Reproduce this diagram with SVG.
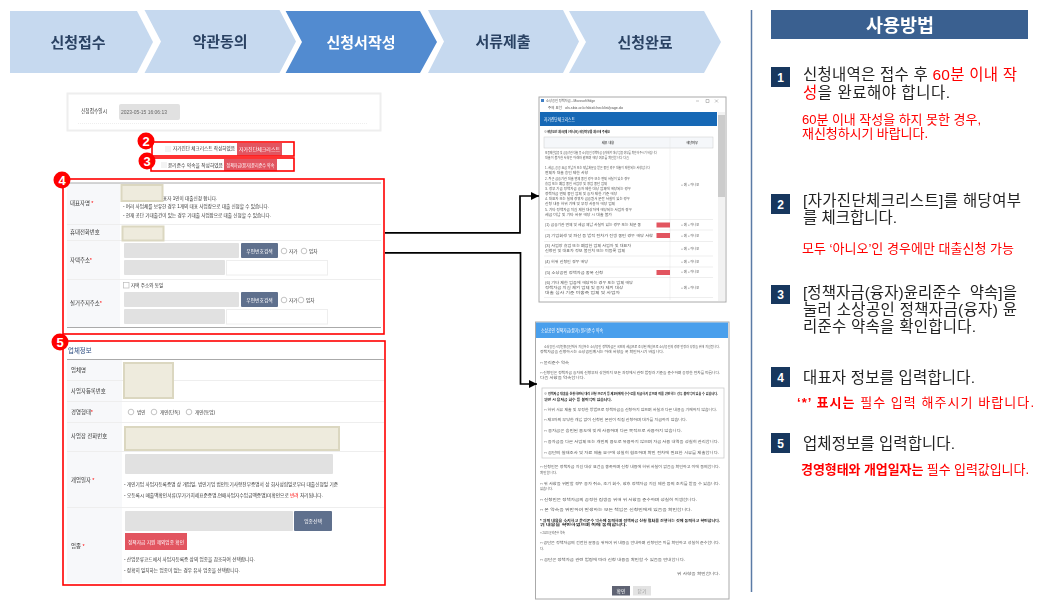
<svg xmlns="http://www.w3.org/2000/svg" width="1037" height="602" viewBox="0 0 1037 602">
<defs>
<filter id="soft" x="-2%" y="-2%" width="104%" height="104%"><feGaussianBlur stdDeviation="0.35"/></filter>
<filter id="soft2" x="-2%" y="-5%" width="104%" height="110%"><feGaussianBlur stdDeviation="0.2"/></filter>
<marker id="arrow" viewBox="0 0 10 10" refX="10" refY="5" markerWidth="5" markerHeight="5" orient="auto"><path d="M0 0L10 5L0 10Z" fill="#000"/></marker>
</defs>
<style>
text{font-family:"Liberation Sans","Noto Sans CJK KR",sans-serif}
.chev{fill:#c6d9ef}.chevA{fill:#528bd0}
.ct{font-size:15px;font-weight:700;fill:#2b4364;text-anchor:middle}
.ctA{font-size:15px;font-weight:700;fill:#fff;text-anchor:middle}
.l{font-size:5.4px;fill:#333}
.m{font-size:4.6px;fill:#333}
.w{font-size:4.8px;fill:#fff;text-anchor:middle}
.t{font-size:3.2px;fill:#555}
.tb{font-size:3.2px;fill:#111;font-weight:700}
.red{fill:none;stroke:#f00;stroke-width:1.6}
.circ{fill:#f00}
.ctxt{font-size:13px;font-weight:700;fill:#fff;text-anchor:middle}
.beige{fill:#eeebdd;stroke:#dbd7c0;stroke-width:2}
.gray{fill:#e1e1e1}
.wbox{fill:#fff;stroke:#eee;stroke-width:1}
.btn{fill:#5f6f8d}
.rbtn{fill:#e25461}
.lab{fill:#f7f8fa}
.div{stroke:#eee;stroke-width:1}
.hd{stroke:#aaa;stroke-width:1}
.rl{stroke:#ddd;stroke-width:.5}
.rad{fill:#fff;stroke:#aaa;stroke-width:.7}
.chk{fill:#fff;stroke:#bbb;stroke-width:.7}
.badge{fill:#17375e}
.bt{font-size:12px;font-weight:700;fill:#fff;text-anchor:middle}
.b{font-size:15.5px;fill:#222}
.r{fill:#f00}
.rs{font-size:13px;fill:#f00}
.conn{fill:none;stroke:#000;stroke-width:1.7;marker-end:url(#arrow)}
</style>

<g id="step1"><path class="chev" d="M10 11H137L153 42L137 73H10Z"/><text class="ct" x="78" y="47.500" filter="url(#soft2)">신청접수</text></g>
<g id="step2"><path class="chev" d="M144.500 10H279.500L296 41.500L279.500 73H144.500L161 41.500Z"/><text class="ct" x="220" y="47" filter="url(#soft2)">약관동의</text></g>
<g id="step3"><path class="chevA" d="M285.600 11H420L437 42L420 73H285.600L302 42Z"/><text class="ctA" x="361" y="47.500" filter="url(#soft2)">신청서작성</text></g>
<g id="step4"><path class="chev" d="M428 10H563L579 41.500L563 73H428L444 41.500Z"/><text class="ct" x="503" y="47" filter="url(#soft2)">서류제출</text></g>
<g id="step5"><path class="chev" d="M569 11H704L721 42L704 73H569L586 42Z"/><text class="ct" x="645" y="47.500" filter="url(#soft2)">신청완료</text></g>

<g id="receipt-form" filter="url(#soft)">
<rect x="67.500" y="93.500" width="313" height="37" fill="#fff" stroke="#eee" stroke-width="2"/>
<text class="l" x="81" y="113" textLength="26" lengthAdjust="spacingAndGlyphs">신청접수일시</text>
<rect x="119" y="104" width="61" height="16" rx="2" class="gray"/>
<text class="l" x="121" y="113.500" style="fill:#666" textLength="46" lengthAdjust="spacingAndGlyphs">2023-05-15 16:06:13</text>
<line x1="78" y1="123.500" x2="368" y2="123.500" stroke="#eee" stroke-dasharray="1 1"/>
</g>

<g id="callout2">
<g filter="url(#soft)">
<rect x="165" y="146" width="6" height="6" fill="#f3f3f3"/>
<text class="m" x="173" y="150" textLength="62" lengthAdjust="spacingAndGlyphs">자가진단 체크리스트 작성하였음</text>
<rect class="rbtn" x="237" y="143" width="45" height="12.500"/>
<text class="w" x="259.500" y="151" textLength="41" lengthAdjust="spacingAndGlyphs">자가진단체크리스트</text>
</g>
<rect class="red" x="152" y="142" width="142" height="14"/>
<circle class="circ" cx="146" cy="141" r="8.500"/><text class="ctxt" x="146" y="145.500">2</text>
</g>

<g id="callout3">
<g filter="url(#soft)">
<rect x="161" y="162" width="6" height="6" fill="#f3f3f3"/>
<text class="m" x="168" y="166.500" textLength="55" lengthAdjust="spacingAndGlyphs">윤리준수 약속을 작성하였음</text>
<rect class="rbtn" x="224" y="159" width="53" height="12"/>
<text class="w" x="250.500" y="167" textLength="48" lengthAdjust="spacingAndGlyphs">정책자금(융자)윤리준수 약속</text>
</g>
<rect class="red" x="151" y="158" width="143" height="13"/>
<circle class="circ" cx="147" cy="161" r="8.500"/><text class="ctxt" x="147" y="165.500">3</text>
</g>

<g id="callout4">
<g filter="url(#soft)">
<rect class="lab" x="67" y="183" width="53" height="144"/>
<line class="hd" x1="67" y1="183" x2="381" y2="183"/>
<line class="div" x1="67" y1="224.500" x2="381" y2="224.500"/>
<line class="div" x1="67" y1="240.500" x2="381" y2="240.500"/>
<line class="div" x1="67" y1="279.500" x2="381" y2="279.500"/>
<line class="hd" x1="67" y1="327.500" x2="381" y2="327.500"/>
<text class="l" x="70" y="205">대표자명 <tspan class="r">*</tspan></text>
<text class="l" x="70" y="234">휴대전화번호</text>
<text class="l" x="70" y="262">자택주소<tspan class="r">*</tspan></text>
<text class="l" x="70" y="305">실거주지주소<tspan class="r">*</tspan></text>
<rect class="beige" x="121.500" y="185" width="41" height="16"/>
<text class="m" x="163" y="200">표자 1인이 대출신청 합니다.</text>
<text class="m" x="123" y="208" textLength="146" lengthAdjust="spacingAndGlyphs">- 여러 사업체를 보유한 경우 1개의 대표 사업장으로 대출 신청할 수 있습니다.</text>
<text class="m" x="123" y="217" textLength="148" lengthAdjust="spacingAndGlyphs">- 현재 공단 기대출건이 있는 경우 기대출 사업장으로 대출 신청할 수 있습니다.</text>
<rect class="beige" x="122.500" y="226.500" width="41" height="14"/>
<rect class="gray" x="124" y="243" width="115" height="15" rx="1"/>
<rect class="btn" x="241" y="243" width="37" height="15" rx="1"/>
<text class="w" x="259.500" y="252.500">우편번호검색</text>
<circle class="rad" cx="284" cy="251" r="2.800"/><text class="m" x="289" y="252.500">자가</text>
<circle class="rad" cx="304" cy="251" r="2.800"/><text class="m" x="309" y="252.500">임차</text>
<rect class="gray" x="124" y="260" width="101" height="15" rx="1"/>
<rect class="wbox" x="226.500" y="260.500" width="101" height="14.500"/>
<rect class="chk" x="123.500" y="282.500" width="5.500" height="5.500"/>
<text class="m" x="131" y="287">자택 주소와 동일</text>
<rect class="gray" x="124" y="292" width="115" height="15" rx="1"/>
<rect class="btn" x="241" y="292" width="37" height="15" rx="1"/>
<text class="w" x="259.500" y="301.500">우편번호검색</text>
<circle class="rad" cx="284" cy="300" r="2.800"/><text class="m" x="289" y="301.500">자가</text>
<circle class="rad" cx="301" cy="300" r="2.800"/><text class="m" x="306" y="301.500">임차</text>
<rect class="gray" x="124" y="309" width="101" height="15" rx="1"/>
<rect class="wbox" x="226.500" y="309.500" width="101" height="14.500"/>
</g>
<rect class="red" x="63" y="179" width="321" height="155"/>
<circle class="circ" cx="62" cy="180" r="8.500"/><text class="ctxt" x="62" y="184.500">4</text>
</g>

<g id="callout5">
<g filter="url(#soft)">
<rect class="lab" x="67" y="359" width="55" height="224"/>
<text x="68" y="352.500" font-size="6.400" fill="#2a4a7f">업체정보</text>
<line class="hd" x1="67" y1="359.500" x2="384" y2="359.500"/>
<line class="div" x1="67" y1="380.500" x2="384" y2="380.500"/>
<line class="div" x1="67" y1="401.500" x2="384" y2="401.500"/>
<line class="div" x1="67" y1="422.500" x2="384" y2="422.500"/>
<line class="div" x1="67" y1="451.500" x2="384" y2="451.500"/>
<line class="div" x1="67" y1="507.500" x2="384" y2="507.500"/>
<text class="l" x="71" y="372">업체명</text>
<text class="l" x="71" y="393">사업자등록번호</text>
<text class="l" x="71" y="414">경영형태<tspan class="r">*</tspan></text>
<text class="l" x="71" y="438">사업장 전화번호</text>
<text class="l" x="71" y="482">개업일자 <tspan class="r">*</tspan></text>
<text class="l" x="71" y="548">업종 <tspan class="r">*</tspan></text>
<rect class="beige" x="124" y="363" width="49" height="35"/>
<circle class="rad" cx="131" cy="412" r="2.800"/><text class="m" x="137" y="413.500">법인</text>
<circle class="rad" cx="154" cy="412" r="2.800"/><text class="m" x="160" y="413.500">개인(단독)</text>
<circle class="rad" cx="189" cy="412" r="2.800"/><text class="m" x="195" y="413.500">개인(동업)</text>
<rect class="beige" x="125" y="427" width="214" height="23"/>
<rect class="gray" x="125" y="454" width="208" height="20" rx="1"/>
<text class="m" x="124" y="486" textLength="214" lengthAdjust="spacingAndGlyphs">- 개인기업 사업자등록증명 상 개업일, 법인기업 법인등기사항전부증명서 상 회사성립일로부터 대출신청일 기준</text>
<text class="m" x="124" y="497" textLength="199" lengthAdjust="spacingAndGlyphs">- 오등록시 매출액확인서류(부가가치세표준증명,연매사업자수입금액증명)미확인으로 <tspan class="r">반려</tspan> 처리됩니다.</text>
<rect class="gray" x="125" y="511" width="168" height="20" rx="1"/>
<rect class="btn" x="294" y="511" width="38" height="20" rx="1"/>
<text class="w" x="313" y="523">업종선택</text>
<rect class="rbtn" x="125" y="533" width="62" height="17"/>
<text class="w" x="156" y="543.500" textLength="56" lengthAdjust="spacingAndGlyphs">정책자금 지원 제외업종 확인</text>
<text class="m" x="124" y="561" textLength="131" lengthAdjust="spacingAndGlyphs">- 산업분류코드에서 사업자등록증 상의 업종을 참조하여 선택합니다.</text>
<text class="m" x="124" y="572" textLength="116" lengthAdjust="spacingAndGlyphs">- 정확히 일치하는 업종이 없는 경우 유사 업종을 선택합니다.</text>
</g>
<rect class="red" x="63" y="341" width="322" height="244"/>
<circle class="circ" cx="60" cy="342" r="8.500"/><text class="ctxt" x="60" y="346.500">5</text>
</g>

<g id="checklist-window" filter="url(#soft)">
<rect x="539" y="97" width="187" height="205" fill="#fff" stroke="#aaa" stroke-width="1"/>
<rect x="541" y="99" width="3" height="3" fill="#3f7fc4"/>
<text class="t" x="546" y="102" textLength="49" lengthAdjust="spacingAndGlyphs">소상공인 정책자금 - Microsoft Edge</text>
<path d="M696 101h3M706 99.500h3v3h-3zM715 99.500l3 3m0-3l-3 3" fill="none" stroke="#888" stroke-width=".5"/>
<text class="t" x="548" y="108.500" textLength="14" lengthAdjust="spacingAndGlyphs">주의 요함</text>
<text class="t" x="565" y="108.500" textLength="58" lengthAdjust="spacingAndGlyphs">ols.sbiz.or.kr/sbiz/checklist/page.do</text>
<rect x="540" y="112" width="177" height="14" fill="#1467b5"/>
<text x="544" y="120.500" font-size="4.200" fill="#fff" textLength="31" lengthAdjust="spacingAndGlyphs">자가진단체크리스트</text>
<rect x="718" y="112" width="7" height="189" fill="#f2f2f2"/>
<rect x="718" y="115" width="7" height="82" fill="#ccc"/>
<text class="tb" x="544" y="133" textLength="66" lengthAdjust="spacingAndGlyphs">※해당요건 체크(예 / 아니오) 해당여부를 체크해 주세요</text>
<rect x="544" y="137" width="169" height="11" fill="#f5f7fa" stroke="#ccc" stroke-width=".5"/>
<line x1="670" y1="137" x2="670" y2="300" stroke="#e5e5e5" stroke-width=".5"/>
<text class="t" x="608" y="143.500" text-anchor="middle" font-weight="700">세부 내용</text>
<text class="t" x="692" y="143.500" text-anchor="middle" font-weight="700">해당여부</text>
<text class="t" x="545" y="154" textLength="112" lengthAdjust="spacingAndGlyphs">보증제한업종 및 금융기관 대출 등 소상공인 정책자금 융자제외 대상 업종 여부를 확인해 주시기 바랍니다</text>
<text class="t" x="545" y="159" textLength="84" lengthAdjust="spacingAndGlyphs">대출이 불가한 사항은 아래와 같으며 해당 여부를 확인합니다 다음</text>
<text class="t" x="545" y="168.500" textLength="105" lengthAdjust="spacingAndGlyphs">1. 세금, 공공 요금 미납자 또는 체납처분을 받은 중인 경우 대출이 제한되는 사항입니다</text>
<text class="t" x="545" y="174" textLength="43" lengthAdjust="spacingAndGlyphs">연체자 대출 승인 제한 사항</text>
<text class="t" x="545" y="179.500" textLength="85" lengthAdjust="spacingAndGlyphs">2. 최근 금융기관 대출 연체 중인 경우 또는 연체 사실이 있는 경우</text>
<text class="t" x="545" y="184.500" textLength="62" lengthAdjust="spacingAndGlyphs">휴업 또는 폐업 중인 사업장 및 영업 중단 업체</text>
<text class="t" x="545" y="190" textLength="86" lengthAdjust="spacingAndGlyphs">3. 정부 기금 정책자금 융자 제한 대상 업체에 해당되는 경우</text>
<text class="t" x="545" y="194.500" textLength="72" lengthAdjust="spacingAndGlyphs">정책자금 연체 중인 업체 및 융자 제한 기준 해당</text>
<text class="t" x="545" y="200" textLength="85" lengthAdjust="spacingAndGlyphs">4. 대표자 또는 실제 경영자 금융질서 문란 사실이 있는 경우</text>
<text class="t" x="545" y="204.500" textLength="70" lengthAdjust="spacingAndGlyphs">신청 내용 허위 기재 및 부정 사용자 해당 업체</text>
<text class="t" x="545" y="210.500" textLength="87" lengthAdjust="spacingAndGlyphs">5. 기타 정책자금 지원 제한 대상자에 해당되는 사업자 경우</text>
<text class="t" x="545" y="215.500" textLength="67" lengthAdjust="spacingAndGlyphs">세금 미납 및 기타 사유 해당 시 대출 불가</text>
<line class="rl" x1="544" y1="219.500" x2="713" y2="219.500"/>
<line class="rl" x1="544" y1="230" x2="713" y2="230"/>
<line class="rl" x1="544" y1="241.500" x2="713" y2="241.500"/>
<line class="rl" x1="544" y1="256" x2="713" y2="256"/>
<line class="rl" x1="544" y1="267" x2="713" y2="267"/>
<line class="rl" x1="544" y1="277.500" x2="713" y2="277.500"/>
<line class="rl" x1="544" y1="297.500" x2="713" y2="297.500"/>
<text class="t" x="545" y="225.500" textLength="96" lengthAdjust="spacingAndGlyphs">(1) 금융기관 연체 및 세금 체납 사실이 있는 경우 또는 처분 중</text>
<text class="t" x="545" y="237" textLength="108" lengthAdjust="spacingAndGlyphs">(2) 기업회생 및 파산 등 법적 절차가 진행 중인 경우 해당 사항</text>
<text class="t" x="545" y="247" textLength="86" lengthAdjust="spacingAndGlyphs">(3) 사업장 휴업 또는 폐업한 업체 사업자 및 대표자</text>
<text class="t" x="545" y="252" textLength="80" lengthAdjust="spacingAndGlyphs">신청인 및 대표자 정보 불일치 또는 미등록 업체</text>
<text class="t" x="545" y="262.500" textLength="43" lengthAdjust="spacingAndGlyphs">(4) 허위 신청인 경우 해당</text>
<text class="t" x="545" y="273.500" textLength="58" lengthAdjust="spacingAndGlyphs">(5) 소상공인 정책자금 중복 신청</text>
<text class="t" x="545" y="283.500" textLength="88" lengthAdjust="spacingAndGlyphs">(6) 기타 제한 업종에 해당하는 경우 또는 업체 해당</text>
<text class="t" x="545" y="288.500" textLength="78" lengthAdjust="spacingAndGlyphs">정책자금 지원 제외 업체 및 융자 제외 대상</text>
<text class="t" x="545" y="293.500" textLength="75" lengthAdjust="spacingAndGlyphs">대출 심사 기준 미충족 업체 및 사업자</text>
<rect class="rbtn" x="656.500" y="222.500" width="13.500" height="5"/>
<rect class="rbtn" x="656.500" y="233" width="13.500" height="5"/>
<rect class="rbtn" x="656.500" y="270" width="13.500" height="5"/>
<text class="t" x="681" y="185.500">○ 예 ○ 아니오</text><text class="t" x="681" y="226">○ 예 ○ 아니오</text><text class="t" x="681" y="237">○ 예 ○ 아니오</text><text class="t" x="681" y="250">○ 예 ○ 아니오</text><text class="t" x="681" y="262.500">○ 예 ○ 아니오</text><text class="t" x="681" y="273">○ 예 ○ 아니오</text><text class="t" x="681" y="288.500">○ 예 ○ 아니오</text>
</g>

<g id="ethics-window" filter="url(#soft)">
<rect x="535.500" y="322" width="193.500" height="277" fill="#fff" stroke="#aaa" stroke-width="1"/>
<rect x="536" y="322.500" width="192" height="15.500" fill="#4a9fec"/>
<text x="541" y="332" font-size="4.400" fill="#fff" textLength="62" lengthAdjust="spacingAndGlyphs">소상공인 정책자금(융자) 윤리준수 약속</text>
<text class="t" x="544" y="348.300" textLength="176" lengthAdjust="spacingAndGlyphs">소상공인시장진흥공단에서 지원하는 소상공인 정책자금은 국민의 세금으로 조성된 재원으로 소상공인의 경영 안정과 성장을 위해 지원됩니다.</text>
<text class="t" x="540" y="353.300" textLength="124" lengthAdjust="spacingAndGlyphs">정책자금을 신청하시는 소상공인께서는 아래 사항을 꼭 확인하시기 바랍니다.</text>
<text class="t" x="540" y="364" textLength="29" lengthAdjust="spacingAndGlyphs">□ 윤리준수 약속</text>
<text class="t" x="540" y="374" textLength="180" lengthAdjust="spacingAndGlyphs">□ 신청인은 정책자금 융자의 신청부터 상환까지 모든 과정에서 관련 법령과 기준을 준수하며 공정한 절차를 따릅니다.</text>
<text class="t" x="540" y="379" textLength="45" lengthAdjust="spacingAndGlyphs">다음 사항을 약속합니다.</text>
<rect x="542" y="388" width="182" height="70" fill="#fff" stroke="#ccc" stroke-width=".8"/>
<text class="tb" x="544" y="395" textLength="174" lengthAdjust="spacingAndGlyphs">※ 정책자금 대출을 신청하면서 대리 신청 브로커 등 제3자에게 수수료를 지급하지 않으며 이를 위반하는 경우 불이익이 있을 수 있습니다.</text>
<text class="tb" x="544" y="400.600" textLength="68" lengthAdjust="spacingAndGlyphs">위반 시 융자금 회수 등 불이익이 있습니다.</text>
<text class="t" x="544" y="410.600" textLength="173" lengthAdjust="spacingAndGlyphs">□ 허위 서류 제출 및 부정한 방법으로 정책자금을 신청하지 않으며 사실과 다른 내용을 기재하지 않습니다.</text>
<text class="t" x="544" y="421.300" textLength="143" lengthAdjust="spacingAndGlyphs">□ 제3자의 부당한 개입 없이 신청인 본인이 직접 신청하며 대가를 지급하지 않습니다.</text>
<text class="t" x="544" y="432.300" textLength="138" lengthAdjust="spacingAndGlyphs">□ 융자금은 승인된 용도에 맞게 사용하며 다른 목적으로 사용하지 않습니다.</text>
<text class="t" x="544" y="443" textLength="175" lengthAdjust="spacingAndGlyphs">□ 융자금을 다른 사업체 또는 개인의 용도로 유용하지 않으며 자금 사용 내역을 성실히 관리합니다.</text>
<text class="t" x="544" y="453.600" textLength="175" lengthAdjust="spacingAndGlyphs">□ 공단의 실태조사 및 자료 제출 요구에 성실히 협조하며 확인 절차에 필요한 서류를 제출합니다.</text>
<text class="t" x="540" y="468.300" textLength="180" lengthAdjust="spacingAndGlyphs">□ 신청인은 정책자금 지원 대상 요건을 충족하며 신청 내용에 허위 사실이 없음을 확인하고 이에 동의합니다.</text>
<text class="t" x="540" y="473.600" textLength="17" lengthAdjust="spacingAndGlyphs">확인합니다.</text>
<text class="t" x="540" y="484.600" textLength="180" lengthAdjust="spacingAndGlyphs">□ 위 사항을 위반할 경우 융자 취소, 조기 회수, 향후 정책자금 지원 제한 등의 조치를 받을 수 있습니다.</text>
<text class="t" x="540" y="489.600" textLength="13" lengthAdjust="spacingAndGlyphs">있습니다.</text>
<text class="t" x="540" y="500.600" textLength="157" lengthAdjust="spacingAndGlyphs">□ 신청인은 정책자금의 공정한 집행을 위해 위 사항을 준수하며 성실히 이행합니다.</text>
<text class="t" x="540" y="511.300" textLength="152" lengthAdjust="spacingAndGlyphs">□ 본 약속을 위반하여 발생하는 모든 책임은 신청인에게 있음을 확인합니다.</text>
<text class="tb" x="540" y="522" textLength="180" lengthAdjust="spacingAndGlyphs">* 위의 내용을 숙지하고 윤리준수 약속에 동의하며 정책자금 신청 절차를 진행하는 것에 동의하고 확인합니다.</text>
<text class="tb" x="540" y="526.300" textLength="87" lengthAdjust="spacingAndGlyphs">위 내용을 확인하였으며 이에 동의합니다.</text>
<text class="t" x="540" y="533.600" textLength="25" lengthAdjust="spacingAndGlyphs">□ 2023 윤리준수 약속</text>
<text class="t" x="540" y="544.300" textLength="180" lengthAdjust="spacingAndGlyphs">□ 공단은 정책자금의 건전한 운용을 위하여 위 내용을 안내하며 신청인은 이를 확인하고 성실히 준수합니다.</text>
<text class="t" x="540" y="549.600" textLength="4" lengthAdjust="spacingAndGlyphs">다.</text>
<text class="t" x="540" y="560.600" textLength="145" lengthAdjust="spacingAndGlyphs">□ 공단은 정책자금 관련 법령에 따라 신청 내용을 확인할 수 있음을 안내합니다.</text>
<text class="t" x="677" y="574.600" textLength="43" lengthAdjust="spacingAndGlyphs">위 사항을 확인합니다.</text>
<rect x="612" y="586" width="18" height="9.500" fill="#5e6473"/>
<text class="w" x="621" y="592.500">확인</text>
<rect x="633" y="586" width="18" height="9.500" fill="#e3e3e3"/>
<text class="w" x="642" y="592.500" style="fill:#999">닫기</text>
</g>

<g id="connectors">
<path class="conn" d="M385 232.800H520V196H539"/>
<path class="conn" d="M385 252.800H520.500V384H537"/>
</g>

<line id="divider" x1="751.500" y1="10" x2="751.500" y2="592" stroke="#5b7ba6" stroke-width="1.500"/>

<g id="title"><rect x="771" y="10" width="257" height="29" fill="#3a6090"/><text x="900" y="31.500" font-size="18.500" font-weight="700" fill="#fff" text-anchor="middle" filter="url(#soft2)">사용방법</text></g>

<g id="item1">
<rect class="badge" x="771" y="67" width="19" height="20"/><text class="bt" x="780.500" y="81.500">1</text>
<g filter="url(#soft2)">
<text class="b" x="803" y="80" textLength="214">신청내역은 접수 후 <tspan class="r">60분 이내 작</tspan></text>
<text class="b" x="803" y="98" textLength="147"><tspan class="r">성</tspan>을 완료해야 합니다.</text>
<text class="rs" x="802" y="124" textLength="179">60분 이내 작성을 하지 못한 경우,</text>
<text class="rs" x="802" y="138" textLength="126">재신청하시기 바랍니다.</text>
</g>
</g>
<g id="item2">
<rect class="badge" x="771" y="194" width="19" height="20"/><text class="bt" x="780.500" y="208.500">2</text>
<g filter="url(#soft2)">
<text class="b" x="803" y="206" textLength="218">[자가진단체크리스트]를 해당여부</text>
<text class="b" x="803" y="223" textLength="94">를 체크합니다.</text>
<text class="rs" x="802" y="253" textLength="212">모두 ‘아니오’인 경우에만 대출신청 가능</text>
</g>
</g>
<g id="item3">
<rect class="badge" x="771" y="285" width="19" height="19"/><text class="bt" x="780.500" y="299">3</text>
<g filter="url(#soft2)">
<text class="b" x="803" y="297.500" textLength="214">[정책자금(융자)윤리준수&#160;&#160;약속]을</text>
<text class="b" x="803" y="315" textLength="214">눌러 소상공인 정책자금(융자) 윤</text>
<text class="b" x="803" y="332" textLength="173">리준수 약속을 확인합니다.</text>
</g>
</g>
<g id="item4">
<rect class="badge" x="771" y="367" width="19" height="20"/><text class="bt" x="780.500" y="381.500">4</text>
<g filter="url(#soft2)">
<text class="b" x="803" y="383" textLength="172">대표자 정보를 입력합니다.</text>
<text class="rs" x="797" y="407" textLength="237"><tspan font-weight="700">‘*’ 표시는</tspan> 필수 입력 해주시기 바랍니다.</text>
</g>
</g>
<g id="item5">
<rect class="badge" x="771" y="433" width="19" height="20"/><text class="bt" x="780.500" y="447.500">5</text>
<g filter="url(#soft2)">
<text class="b" x="803" y="449" textLength="152">업체정보를 입력합니다.</text>
<text class="rs" x="801" y="474" textLength="228"><tspan font-weight="700">경영형태와 개업일자는</tspan> 필수 입력값입니다.</text>
</g>
</g>
</svg>
